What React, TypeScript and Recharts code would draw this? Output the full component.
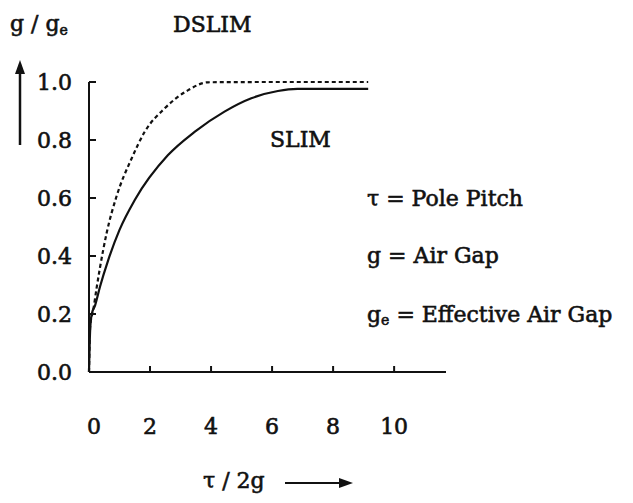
import { LineChart, Line, XAxis, YAxis } from "recharts"

const xTicks = [0, 2, 4, 6, 8, 10]
const yTicks = [0, 0.2, 0.4, 0.6, 0.8, 1.0]

// DSLIM (dashed)
const dslimX = [0, 0.04, 0.14, 0.25, 0.36, 0.58, 0.9, 1.4, 1.83, 2.48, 3.25, 3.9, 6.0, 9.15]
const dslimY = [0, 0.16, 0.214, 0.29, 0.36, 0.48, 0.605, 0.737, 0.829, 0.909, 0.972, 0.999, 1.0, 1.0]

// SLIM (solid)
const slimX = [0, 0.04, 0.09, 0.2, 0.36, 0.63, 1.0, 1.5, 2.59, 3.46, 4.44, 5.32, 6.19, 6.83, 9.15]
const slimY = [0, 0.15, 0.2, 0.23, 0.294, 0.386, 0.49, 0.593, 0.748, 0.828, 0.898, 0.944, 0.969, 0.976, 0.976]

const defs = ["τ = Pole Pitch", "g = Air Gap"]

const dslim = dslimX.map((x, i) => ({ x, y: dslimY[i] }))
const slim = slimX.map((x, i) => ({ x, y: slimY[i] }))

const font = "DejaVu Serif"
const txt = { fontFamily: font, fontSize: 22, fill: "#111", stroke: "#111", strokeWidth: 0.6 }

const YTick = (props: any) => {
  const { x, y, payload } = props
  return (
    <g>
      <line x1={x} x2={x + 7} y1={y} y2={y} stroke="#111" strokeWidth={2} />
      <text x={x - 17} y={y} textAnchor="end" dominantBaseline="central" {...txt}>
        {Number(payload.value).toFixed(1)}
      </text>
    </g>
  )
}

const XTick = (props: any) => {
  const { x, y, payload } = props
  return (
    <g>
      <line x1={x} x2={x} y1={y} y2={y - 6} stroke="#111" strokeWidth={2} />
      <text x={x + (payload.value === 0 ? 5 : 0)} y={y + 62} textAnchor="middle" {...txt}>
        {payload.value}
      </text>
    </g>
  )
}

export default function App() {
  return (
    <div style={{ position: "absolute", left: 0, top: 0, background: "#fff" }}>
      <LineChart width={633} height={503} margin={{ top: 82, right: 187, left: 0, bottom: 0 }}>
        <XAxis type="number" dataKey="x" domain={[0, 11.7]} ticks={xTicks}
          tickLine={false} tickSize={0} tickMargin={0} height={131}
          axisLine={{ stroke: "#111", strokeWidth: 2 }} tick={<XTick />} />
        <YAxis type="number" dataKey="y" domain={[0, 1]} ticks={yTicks}
          tickLine={false} tickSize={0} tickMargin={0} width={89}
          axisLine={{ stroke: "#111", strokeWidth: 2 }} tick={<YTick />} />
        <Line data={dslim} dataKey="y" type="monotone" stroke="#111" strokeWidth={2.2}
          strokeDasharray="4 3" dot={false} isAnimationActive={false} />
        <Line data={slim} dataKey="y" type="monotone" stroke="#111" strokeWidth={2.2}
          dot={false} isAnimationActive={false} />

        <text x={173} y={32} {...txt}>DSLIM</text>
        <text x={270} y={147} {...txt}>SLIM</text>

        <text x={367} y={206} {...txt}>{defs[0]}</text>
        <text x={367} y={263} {...txt}>{defs[1]}</text>
        <text x={367} y={322} {...txt}>
          g<tspan fontSize={14} dy={3}>e</tspan><tspan dy={-3}> = Effective Air Gap</tspan>
        </text>

        <text x={10} y={31} {...txt}>
          g / g<tspan fontSize={14} dy={4}>e</tspan>
        </text>
        <line x1={20} x2={20} y1={72} y2={145} stroke="#111" strokeWidth={2.5} />
        <polygon points="20,60 15,74 25,74" fill="#111" />

        <text x={203} y={488} {...txt}>τ / 2g</text>
        <line x1={285} x2={342} y1={483} y2={483} stroke="#111" strokeWidth={2} />
        <polygon points="353,483 339,478 339,488" fill="#111" />
      </LineChart>
    </div>
  )
}
